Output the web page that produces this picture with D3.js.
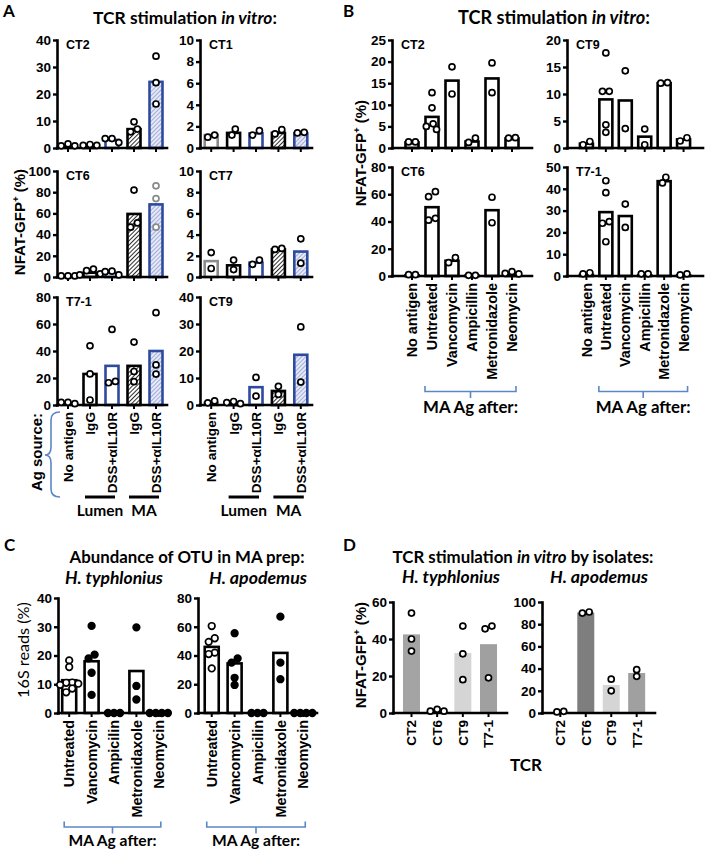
<!DOCTYPE html>
<html><head><meta charset="utf-8">
<script src="https://cdn.jsdelivr.net/npm/d3@7"></script>
<style>body{margin:0;background:#fff}</style>
</head><body><svg id="c" width="705" height="851"></svg>
<script>
// ---------------- DATA ----------------
// Panel A
const aCategories = ["No antigen", "Lumen IgG", "Lumen DSS+αIL10R", "MA IgG", "MA DSS+αIL10R"];
const aTickLabels = ["No antigen", "IgG", "DSS+αIL10R", "IgG", "DSS+αIL10R"];
const aGroups = ["Lumen", "MA"];
const aCT2Ticks = [0, 10, 20, 30, 40];
const aCT2Bars = [1.0, 1.0, 3.0, 7.0, 24.5];
const aCT2Points = [[1.5, 0.8, 0.8], [1.0, 1.3, 1.0], [3.5, 2.0, 3.5], [9.7, 6.0, 7.0], [34.0, 24.2, 16.3]];
const aCT1Ticks = [0, 2, 4, 6, 8, 10];
const aCT1Bars = [1.2, 1.4, 1.35, 1.4, 1.35];
const aCT1Points = [[1.0, 1.2], [1.2, 1.75], [1.2, 1.6], [1.3, 1.7], [1.4, 1.45]];
const aCT6Ticks = [0, 20, 40, 60, 80, 100];
const aCT6Bars = [1.0, 4.0, 4.0, 59.5, 68.5];
const aCT6Points = [[1, 1, 1], [7.5, 6, 3, 2], [5.5, 5, 2], [82, 47, 51], [86, 74, 47]];
const aCT7Ticks = [0, 2, 4, 6, 8, 10];
const aCT7Bars = [1.5, 1.1, 1.35, 2.6, 2.4];
const aCT7Points = [[2.3, 0.8], [1.6, 0.7], [1.2, 1.6], [2.6, 2.7], [3.6, 1.3]];
const aT71Ticks = [0, 20, 40, 60, 80];
const aT71Bars = [1.0, 23, 29, 29, 40];
const aT71Points = [[2, 1, 2], [43.8, 23, 3.7], [56, 17.5, 16.5], [46.6, 24.8, 17.3], [68.4, 29.7, 22.9]];
const aCT9Ticks = [0, 10, 20, 30, 40];
const aCT9Bars = [0.8, 0.7, 6.6, 5.2, 18.6];
const aCT9Points = [[0.8, 1.5], [0.5, 0.9, 1.3], [10.2, 3.3], [6.9, 3.9], [28.9, 8.5]];

// Panel B
const bCategories = ["No antigen", "Untreated", "Vancomycin", "Ampicillin", "Metronidazole", "Neomycin"];
const bCT2Ticks = [0, 5, 10, 15, 20, 25];
const bCT2Bars = [1.3, 7.2, 15.6, 1.5, 16.1, 2.2];
const bCT2Points = [[1.4, 1.4], [12.8, 9.3, 5.6, 5.0, 4.3], [18.8, 12.5], [1.3, 2.3], [19.7, 12.8], [2.3, 2.4]];
const bCT9Ticks = [0, 5, 10, 15, 20];
const bCT9Bars = [0.8, 9.0, 8.8, 2.1, 12.0, 1.6];
const bCT9Points = [[0.6, 1.2], [17.6, 10.5, 10.5, 4.3, 2.9], [14.3, 3.6], [3.5, 0.6], [12.0, 12.1], [1.3, 1.9]];
const bCT6Ticks = [0, 20, 40, 60, 80];
const bCT6Bars = [0.5, 50.5, 11.2, 0.3, 48.3, 1.8];
const bCT6Points = [[1, 1], [61.9, 58.2, 41, 42.3], [9.8, 13.5], [0.5, 0.5], [57.8, 39.1], [1.5, 2, 3.2]];
const bT71Ticks = [0, 10, 20, 30, 40, 50];
const bT71Bars = [0.5, 29.3, 27.5, 0.3, 43.5, 0.3];
const bT71Points = [[1, 1.5], [43.7, 38.2, 24.9, 24.2, 15.7], [33, 22.3], [1, 1], [42.7, 45.3], [0.5, 1]];

// Panel C
const cCategories = ["Untreated", "Vancomycin", "Ampicilin", "Metronidaxole", "Neomycin"];
const cTyphTicks = [0, 10, 20, 30, 40];
const cTyphBars = [11.4, 18.0, 0.2, 14.6, 0.2];
const cTyphPoints = [[18.3, 16.0, 10.6, 10.5, 10.2, 9.8, 8.5, 7.2], [30.3, 20.3, 19.0, 14.0, 6.3], [0, 0, 0], [29.8, 9.4, 4.7], [0, 0, 0, 0]];
const cApodTicks = [0, 20, 40, 60, 80];
const cApodBars = [46, 34.5, 0.3, 41.8, 0.3];
const cApodPoints = [[60.5, 52, 49.5, 42, 41, 31], [55.5, 38, 35, 24.5, 19.5], [0, 0, 0], [67, 35, 23.5], [0, 0, 0, 0]];

// Panel D
const dCategories = ["CT2", "CT6", "CT9", "T7-1"];
const dTyphTicks = [0, 20, 40, 60];
const dTyphBars = [42.5, 1.5, 32.4, 37.2];
const dTyphPoints = [[54, 40, 33.5], [2, 1, 1], [47, 32, 18], [47, 45.5, 19]];
const dApodTicks = [0, 20, 40, 60, 80, 100];
const dApodBars = [0.6, 90.5, 25.2, 36];
const dApodPoints = [[1, 1.5], [90, 91], [30.5, 20], [39, 33]];
const dBarColors = ["#a4a4a4", "#7e7e7e", "#d5d5d5", "#a0a0a0"];

// ---------------- DRAWING ----------------
const svg = d3.select("#c");
const FT = "'Liberation Sans', Arial, sans-serif";
const FC = "Lato, 'Open Sans', sans-serif";
const BLUE = "#2d4a9f";
const BRACE = "#5b87c8";

// scale a text's font size so that its rendered length equals the reference length
function fit(sel, target) {
  const w = sel.node().getComputedTextLength();
  if (w > 0) sel.attr("font-size", (+sel.attr("font-size")) * target / w);
  return sel;
}

const defs = svg.append("defs");
function hatch(id, bg, fg, sw) {
  const p = defs.append("pattern").attr("id", id).attr("patternUnits", "userSpaceOnUse")
    .attr("width", 3).attr("height", 3).attr("patternTransform", "rotate(45)");
  p.append("rect").attr("width", 3).attr("height", 3).attr("fill", bg);
  p.append("line").attr("x1", 0).attr("y1", 0).attr("x2", 0).attr("y2", 3).attr("stroke", fg).attr("stroke-width", sw);
}
hatch("hatchK", "#ffffff", "#222222", 1.9);
hatch("hatchB", "#e6e9f6", "#7c8dcc", 1.3);

function swarm(vals, y, minD) {
  const pts = vals.map((v, i) => ({ v, i, y: y(v) })).sort((a, b) => a.y - b.y);
  const placed = [];
  const cand = [0, -1, 1, -2, 2, -3, 3, -4, 4];
  pts.forEach(p => {
    for (const c of cand) {
      const dx = c * minD * 0.55;
      if (placed.every(q => Math.hypot(q.dx - dx, q.y - p.y) >= minD)) { p.dx = dx; break; }
    }
    if (p.dx === undefined) p.dx = 0;
    placed.push(p);
  });
  let groups = [], cur = [pts[0]];
  for (let j = 1; j < pts.length; j++) {
    if (pts[j].y - pts[j - 1].y < minD) cur.push(pts[j]); else { groups.push(cur); cur = [pts[j]]; }
  }
  groups.push(cur);
  groups.forEach(g => { const m = d3.mean(g, d => d.dx); g.forEach(d => d.dx -= m); });
  return pts;
}

function panel(o) {
  const g = svg.append("g");
  const x = d3.scalePoint().domain(o.cats).range([o.x0, o.x1]).padding(o.pad);
  const max = o.ticks[o.ticks.length - 1];
  const y = d3.scaleLinear().domain([0, max]).range([o.bot, o.top]);
  g.selectAll("rect.bar").data(o.bars).join("rect").attr("class", "bar")
    .attr("x", (d, i) => x(o.cats[i]) - o.barW / 2)
    .attr("y", d => y(d)).attr("width", o.barW).attr("height", d => y(0) - y(d))
    .attr("fill", (d, i) => o.barFill(i))
    .attr("stroke", (d, i) => o.barStroke(i)).attr("stroke-width", o.barSW);
  const ya = g.append("g").attr("transform", `translate(${o.x0},0)`)
    .call(d3.axisLeft(y).tickValues(o.ticks).tickSize(4).tickSizeOuter(0).tickPadding(2).tickFormat(d3.format("d")));
  ya.attr("font-family", FT).attr("font-weight", "bold").attr("font-size", 13.5);
  ya.select(".domain").attr("stroke-width", 2.6).attr("stroke-linecap", "square");
  ya.selectAll(".tick line").attr("stroke-width", 2.4);
  ya.selectAll(".tick text").attr("fill", "#000");
  g.append("line").attr("x1", o.x0).attr("x2", o.x1).attr("y1", y(0)).attr("y2", y(0))
    .attr("stroke", "#000").attr("stroke-width", 2.6).attr("stroke-linecap", "square");
  g.selectAll("line.xt").data(o.cats).join("line").attr("class", "xt")
    .attr("x1", d => x(d)).attr("x2", d => x(d)).attr("y1", y(0)).attr("y2", y(0) + 4)
    .attr("stroke", "#000").attr("stroke-width", 2);
  o.points.forEach((vals, i) => {
    const pts = swarm(vals, y, o.minD || 6.2);
    g.selectAll(null).data(pts).join("circle")
      .attr("cx", d => x(o.cats[i]) + d.dx).attr("cy", d => d.y).attr("r", o.r || 3)
      .attr("fill", o.ptFill(i)).attr("stroke", o.ptStroke(i)).attr("stroke-width", 1.7);
  });
  if (o.name) g.append("text").attr("x", o.x0 + 9).attr("y", o.top + 9)
    .attr("font-family", FT).attr("font-weight", "bold").attr("font-size", 12.5).text(o.name);
  if (o.labels) {
    o.labels.forEach((lab, i) => {
      g.append("text").attr("transform", `translate(${x(o.cats[i])},${y(0) + 7}) rotate(-90)`)
        .attr("text-anchor", "end").attr("dy", "0.36em")
        .attr("font-family", FT).attr("font-weight", "bold").attr("font-size", o.labelSize).text(lab);
    });
  }
  return { x, y };
}

function text(x, y, str, size, opts = {}) {
  return svg.append("text").attr("x", x).attr("y", y).attr("font-family", opts.family || FC)
    .attr("font-weight", opts.weight || "bold").attr("font-size", size)
    .attr("font-style", opts.style || "normal")
    .attr("text-anchor", opts.anchor || "start").text(str);
}
function titleInVitro(cx, y, tail, target) {
  const t = svg.append("text").attr("x", cx).attr("y", y).attr("text-anchor", "middle")
    .attr("font-family", FC).attr("font-weight", "bold").attr("font-size", 17);
  t.append("tspan").text("TCR stimulation ");
  t.append("tspan").attr("font-style", "italic").text("in vitro");
  t.append("tspan").text(tail);
  fit(t, target);
}
function nfatLabel(bx, cy, size) {
  const t = svg.append("text").attr("transform", `translate(${bx},${cy}) rotate(-90)`).attr("text-anchor", "middle")
    .attr("font-family", FT).attr("font-weight", "bold").attr("font-size", size);
  t.append("tspan").text("NFAT-GFP");
  t.append("tspan").attr("font-size", size * 0.65).attr("dy", -6).text("+");
  t.append("tspan").attr("dy", 6).text(" (%)");
}
function hBrace(xa, xb, yb, labelY, target) {
  const m = (xa + xb) / 2;
  svg.append("path").attr("d", `M${xa},${yb - 5.5}V${yb}H${xb}V${yb - 5.5}M${m},${yb}V${yb + 6.5}`)
    .attr("fill", "none").attr("stroke", BRACE).attr("stroke-width", 1.6);
  fit(text(m, labelY, "MA Ag after:", 16.5, { anchor: "middle" }), target);
}

// ---------- Panel A ----------
text(3, 17, "A", 17);
titleInVitro(185, 24, ":", 184);
const aStroke = i => ["#8c8c8c", "#000", BLUE, "#000", BLUE][i];
const aFill = i => ["#fff", "#fff", "#fff", "url(#hatchK)", "url(#hatchB)"][i];
const aCfg = (x0, x1, top, bot, ticks, bars, points, name, ptStroke) => ({
  x0, x1, top, bot, ticks, bars, points, name, cats: aCategories, pad: 0.5, barW: 13, barSW: 2.6,
  barFill: aFill, barStroke: aStroke, ptFill: () => "#fff", ptStroke: ptStroke || (() => "#000")
});
panel(aCfg(57, 167, 40, 148, aCT2Ticks, aCT2Bars, aCT2Points, "CT2"));
panel(aCfg(200, 312, 40, 148, aCT1Ticks, aCT1Bars, aCT1Points, "CT1"));
panel(aCfg(57, 167, 171, 277, aCT6Ticks, aCT6Bars, aCT6Points, "CT6", i => i === 4 ? "#8a8a8a" : "#000"));
panel(aCfg(200, 312, 171, 277, aCT7Ticks, aCT7Bars, aCT7Points, "CT7"));
const aL = panel(Object.assign(aCfg(57, 167, 297, 405, aT71Ticks, aT71Bars, aT71Points, "T7-1"), { labels: aTickLabels, labelSize: 13.6 }));
const aR = panel(Object.assign(aCfg(200, 312, 297, 405, aCT9Ticks, aCT9Bars, aCT9Points, "CT9"), { labels: aTickLabels, labelSize: 13.6 }));
nfatLabel(25, 222, 15);
[aL, aR].forEach(s => {
  const pairs = [[1, 2], [3, 4]];
  pairs.forEach((p, k) => {
    const xa = s.x(aCategories[p[0]]) - 5, xb = s.x(aCategories[p[1]]) + 3;
    svg.append("line").attr("x1", xa).attr("x2", xb).attr("y1", 497).attr("y2", 497)
      .attr("stroke", "#000").attr("stroke-width", 3);
    text((xa + xb) / 2, 516, aGroups[k], 15.5, { anchor: "middle" });
  });
});
svg.append("path").attr("d", "M60,412 Q51,412 51,420 L51,447 Q51,455 45,455 Q51,455 51,463 L51,489 Q51,497 60,497")
  .attr("fill", "none").attr("stroke", BRACE).attr("stroke-width", 1.6);
fit(svg.append("text").attr("transform", "translate(42,452) rotate(-90)").attr("text-anchor", "middle")
  .attr("font-family", FT).attr("font-weight", "bold").attr("font-size", 14.5).text("Ag source:"), 78);

// ---------- Panel B ----------
text(343, 17, "B", 17);
titleInVitro(554, 24, ":", 192);
const bCfg = (x0, x1, top, bot, ticks, bars, points, name) => ({
  x0, x1, top, bot, ticks, bars, points, name, cats: bCategories, pad: 1, barW: 13, barSW: 2.6,
  barFill: () => "#fff", barStroke: () => "#000", ptFill: () => "#fff", ptStroke: () => "#000"
});
panel(bCfg(392, 532, 40, 148, bCT2Ticks, bCT2Bars, bCT2Points, "CT2"));
panel(bCfg(567, 703, 40, 148, bCT9Ticks, bCT9Bars, bCT9Points, "CT9"));
const bL = panel(Object.assign(bCfg(392, 532, 167, 276, bCT6Ticks, bCT6Bars, bCT6Points, "CT6"), { labels: bCategories, labelSize: 14.4 }));
const bR = panel(Object.assign(bCfg(567, 703, 167, 276, bT71Ticks, bT71Bars, bT71Points, "T7-1"), { labels: bCategories, labelSize: 14.4 }));
nfatLabel(366, 153, 15);
[bL, bR].forEach(s => hBrace(s.x(bCategories[1]) - 7, s.x(bCategories[5]) + 4, 391.5, 413, 95));

// ---------- Panel C ----------
text(4, 551, "C", 17);
fit(text(187, 563, "Abundance of OTU in MA prep:", 17, { anchor: "middle" }), 235);
fit(text(114, 584, "H. typhlonius", 17, { anchor: "middle", style: "italic" }), 98);
fit(text(258, 584, "H. apodemus", 17, { anchor: "middle", style: "italic" }), 98);
const cCfg = (x0, x1, pad, ticks, bars, points) => ({
  x0, x1, top: 598, bot: 713, ticks, bars, points, cats: cCategories, pad, barW: 14, barSW: 2.6,
  barFill: () => "#fff", barStroke: () => "#000", r: 3.3, minD: 5.5,
  ptFill: i => i === 0 ? "#fff" : "#000", ptStroke: () => "#000", labels: cCategories, labelSize: 14.4
});
const cL = panel(cCfg(58, 170, 0.5, cTyphTicks, cTyphBars, cTyphPoints));
const cR = panel(cCfg(198, 317, 0.6, cApodTicks, cApodBars, cApodPoints));
fit(svg.append("text").attr("transform", "translate(29,650) rotate(-90)").attr("text-anchor", "middle")
  .attr("font-family", FC).attr("font-weight", "normal").attr("font-size", 18).text("16S reads (%)"), 96);
[cL, cR].forEach(s => hBrace(s.x(cCategories[0]) - 5, s.x(cCategories[4]) + 2, 827, 846, 88));

// ---------- Panel D ----------
text(343, 551, "D", 17);
titleInVitro(523, 563, " by isolates:", 261);
fit(text(451, 583, "H. typhlonius", 17, { anchor: "middle", style: "italic" }), 98);
fit(text(599, 583, "H. apodemus", 17, { anchor: "middle", style: "italic" }), 98);
const dCfg = (x0, x1, ticks, bars, points) => ({
  x0, x1, top: 602, bot: 713, ticks, bars, points, cats: dCategories, pad: 0.72, barW: 17, barSW: 0,
  barFill: i => dBarColors[i], barStroke: () => "none", ptFill: () => "#fff", ptStroke: () => "#000",
  labels: dCategories, labelSize: 13.6
});
panel(dCfg(393, 507, dTyphTicks, dTyphBars, dTyphPoints));
panel(dCfg(542, 655, dApodTicks, dApodBars, dApodPoints));
nfatLabel(366, 655, 15);
text(526, 771, "TCR", 17, { anchor: "middle" });
</script></body></html>
